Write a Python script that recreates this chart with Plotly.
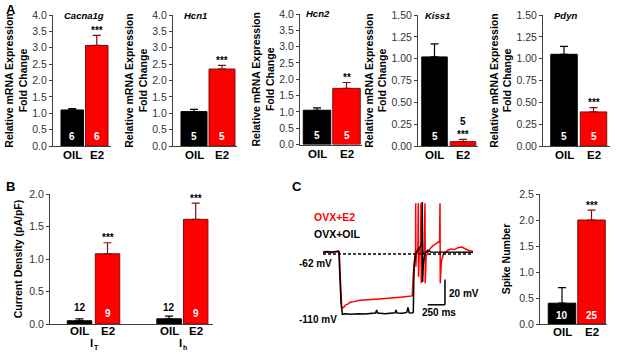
import plotly.graph_objects as go

W, H = 617, 354
FONT = "Arial, Liberation Sans, sans-serif"
RED = "#FF0000"
DARKRED = "#7a1010"
AXC = "#404040"

# ---------------- data ----------------
groups = ["OIL", "E2"]
genes = ["Cacna1g", "Hcn1", "Hcn2", "Kiss1", "Pdyn"]
gene_mean = {
    "Cacna1g": [1.10, 3.07],
    "Hcn1": [1.05, 2.35],
    "Hcn2": [1.05, 1.72],
    "Kiss1": [1.02, 0.05],
    "Pdyn": [1.05, 0.39],
}
gene_sem = {
    "Cacna1g": [0.04, 0.31],
    "Hcn1": [0.07, 0.11],
    "Hcn2": [0.07, 0.18],
    "Kiss1": [0.15, 0.025],
    "Pdyn": [0.09, 0.05],
}
gene_n = {"Cacna1g": [6, 6], "Hcn1": [5, 5], "Hcn2": [5, 5], "Kiss1": [5, 5], "Pdyn": [5, 5]}
gene_sig = {"Cacna1g": "***", "Hcn1": "***", "Hcn2": "**", "Kiss1": "***", "Pdyn": "***"}
gene_ymax = {"Cacna1g": 4.0, "Hcn1": 4.0, "Hcn2": 4.0, "Kiss1": 1.5, "Pdyn": 1.5}
a_title = ["Relative mRNA Expression", "Fold Change"]
b_title = "Current Density (pA/pF)"
c_title = "Spike Number"

current_names = ["I", "I"]
current_subs = ["T", "h"]
current_mean = {"OIL": [0.05, 0.08], "E2": [1.08, 1.61]}
current_sem = {"OIL": [0.03, 0.04], "E2": [0.17, 0.25]}
current_n = {"OIL": [12, 12], "E2": [9, 9]}

spike_mean = [0.40, 2.00]
spike_sem = [0.30, 0.19]
spike_n = [10, 25]

# membrane potential traces (ms, mV)
e2_t = [0, 60, 120, 180, 220, 235, 250, 270, 300, 330, 360, 390, 450, 535, 650, 824, 950, 1113,
        1200, 1272, 1290, 1305, 1320, 1335, 1338, 1340, 1343, 1350, 1372, 1377, 1381, 1390, 1410,
        1416, 1420, 1430, 1460, 1474, 1478, 1490, 1520, 1560, 1600, 1640, 1685, 1691, 1695, 1710,
        1740, 1806, 1850, 1900, 1950, 2004, 2050, 2100, 2168]
e2_v = [-61, -60.5, -61, -60, -59.5, -61, -85, -104.5, -104, -102, -101.5, -100, -99.5, -98.5, -98,
        -97, -96.8, -96, -95.5, -95, -95, -78, -66, -60, -58, -22, -72, -62, -57, -22, -80, -62, -57,
        -22, -85, -63, -60, -22, -85, -64, -60, -57, -55, -53.5, -52, -22, -85, -68, -62, -59, -58,
        -58.5, -57, -56.5, -58, -59, -60]
oil_t = [0, 60, 120, 180, 230, 240, 260, 280, 320, 400, 500, 600, 700, 760, 776, 790, 900, 1000,
         1040, 1055, 1070, 1150, 1210, 1228, 1245, 1290, 1305, 1312, 1319, 1340, 1380, 1420, 1430,
         1435, 1440, 1450, 1474, 1517, 1560, 1650, 1750, 1850, 1950, 2050, 2168]
oil_v = [-60.5, -60, -60.5, -60, -60, -75, -100, -109.5, -109, -109.5, -109, -109.3, -108.8, -108.5,
         -106, -108.5, -109, -108.6, -108.3, -106, -108.5, -108.6, -108, -104, -108.3, -108.5, -108,
         -85, -70, -62, -58, -55, -50, -21, -84, -70, -61.5, -59, -60.5, -60.5, -60.8, -60.3, -60.8,
         -60.5, -60.7]
rest_mv = -62
trace_end_ms = 2168

# ---------------- helpers ----------------
def px(x):
    return x / W


def py(y):
    return 1 - y / H


fig = go.Figure()
annotations = []
shapes = []
layout_axes = {}
TICK = 10.5
CAT = 11.5
TITLE = 10.5


def add_ann(text, x, y, size=10, color="black", bold=True, xanchor="center", yanchor="middle",
            xref="paper", yref="paper", italic=False, yshift=0, xshift=0):
    t = text
    if bold:
        t = "<b>" + t + "</b>"
    if italic:
        t = "<i>" + t + "</i>"
    annotations.append(dict(text=t, x=x, y=y, xref=xref, yref=yref, showarrow=False,
                            font=dict(family=FONT, size=size, color=color), xanchor=xanchor,
                            yanchor=yanchor, yshift=yshift, xshift=xshift))


def bar_axes(idx, ax0, ax1, top, bot, xrange, ymax, dtick, fmt, title, standoff):
    xa = "xaxis" if idx == 1 else f"xaxis{idx}"
    ya = "yaxis" if idx == 1 else f"yaxis{idx}"
    xs = "x" if idx == 1 else f"x{idx}"
    ys = "y" if idx == 1 else f"y{idx}"
    layout_axes[xa] = dict(domain=[px(ax0), px(ax1)], range=xrange, anchor=ys, showline=True,
                           linecolor=AXC, linewidth=1, showgrid=False, zeroline=False,
                           showticklabels=False, ticks="", fixedrange=True)
    layout_axes[ya] = dict(domain=[py(bot), py(top)], range=[0, ymax], anchor=xs, showline=True,
                           linecolor=AXC, linewidth=1, showgrid=False, zeroline=False,
                           ticks="outside", ticklen=3, tickcolor=AXC, dtick=dtick, tick0=0,
                           tickformat=fmt, tickfont=dict(family=FONT, size=TICK, color="#333"),
                           title=dict(text=title, standoff=standoff,
                                      font=dict(family=FONT, size=TITLE, color="black")),
                           automargin=False, fixedrange=True)
    return xs, ys


def cat_labels(xs, xvals, labels, ypix):
    for xv, lab in zip(xvals, labels):
        add_ann(lab, xv, py(ypix), size=CAT, xref=xs)


def add_bar(xs, ys, x, val, err, color, line, ecolor, width):
    fig.add_trace(go.Bar(x=[x], y=[val], width=[width], xaxis=xs, yaxis=ys,
                         marker=dict(color=color, line=dict(color=line, width=1)),
                         error_y=dict(type="data", symmetric=False, array=[err], arrayminus=[0],
                                      color=ecolor, thickness=1.2, width=4),
                         showlegend=False, hoverinfo="skip"))


def xmap(ax0, ax1, oL, oR, eL, eR):
    c0 = (oL + oR) / 2
    c1 = (eL + eR) / 2
    u = c1 - c0
    w = ((oR - oL) + (eR - eL)) / 2 / u
    return [(ax0 - c0) / u, 1 + (ax1 - c1) / u], w


# ---------------- panel A ----------------
a_geom = [  # ax0, ax1, oilL, oilR, e2L, e2R, top, bot
    (53, 111, 61, 83.5, 85.5, 108, 15, 146),
    (173, 237, 181, 207, 209, 235, 15, 146),
    (300, 362, 303, 331, 333, 360, 14, 144.5),
    (418, 478, 422, 447, 450, 476, 15, 146),
    (543, 610, 551, 577, 580, 607, 15, 146),
]
a_ytitle = "<b>" + a_title[0] + "</b><br><b>" + a_title[1] + "</b>"
for i, g in enumerate(genes):
    ax0, ax1, oL, oR, eL, eR, top, bot = a_geom[i]
    xr, w = xmap(ax0, ax1, oL, oR, eL, eR)
    ymax = gene_ymax[g]
    fmt = ".1f" if ymax > 2 else ".2f"
    dt = 0.5 if ymax > 2 else 0.25
    xs, ys = bar_axes(i + 1, ax0, ax1, top, bot, xr, ymax, dt, fmt, a_ytitle, 2)
    cat_labels(xs, [0, 1], groups, bot + 9)
    m, e = gene_mean[g], gene_sem[g]
    add_bar(xs, ys, 0, m[0], e[0], "black", "black", "black", w)
    add_bar(xs, ys, 1, m[1], e[1], RED, DARKRED, DARKRED, w)
    add_ann(g, px(oL + 1), py(top), size=9.5, italic=True, xanchor="left")
    ydom = "y domain" if i == 0 else f"y{i + 1} domain"
    add_ann(str(gene_n[g][0]), 0, 0.069, size=10, color="white", xref=xs, yref=ydom)
    if g == "Kiss1":
        add_ann(str(gene_n[g][1]), 1, m[1] + e[1], size=10, xref=xs, yref=ys, yshift=18)
    else:
        add_ann(str(gene_n[g][1]), 1, 0.069, size=10, color="white", xref=xs, yref=ydom)
    add_ann(gene_sig[g], 1, m[1] + e[1], size=10, xref=xs, yref=ys, yshift=5)

add_ann("A", px(4), py(9), size=13, xanchor="left")

# ---------------- panel B ----------------
b_pos = [[0, 3.2], [1, 4.15]]  # OIL, E2 x positions for each current
u = 28.0
c0 = 79.5
bx0, bx1 = 50, 213
xs, ys = bar_axes(6, bx0, bx1, 194, 324, [(bx0 - c0) / u, (bx1 - c0) / u], 2.0, 0.5, ".1f",
                  "<b>" + b_title + "</b>", 4)
bw = 24.5 / u
for k in range(2):
    add_bar(xs, ys, b_pos[0][k], current_mean["OIL"][k], current_sem["OIL"][k], "black", "black",
            "black", bw)
    add_bar(xs, ys, b_pos[1][k], current_mean["E2"][k], current_sem["E2"][k], RED, DARKRED,
            DARKRED, bw)
    cat_labels(xs, [b_pos[0][k], b_pos[1][k]], groups, 331)
    add_ann(str(current_n["OIL"][k]), b_pos[0][k], 0.125, size=10, xref=xs, yref="y6 domain")
    add_ann(str(current_n["E2"][k]), b_pos[1][k], 0.082, size=10, color="white", xref=xs,
            yref="y6 domain")
    add_ann("***", b_pos[1][k], current_mean["E2"][k] + current_sem["E2"][k], size=10, xref=xs,
            yref=ys, yshift=5)
    mid = (b_pos[0][k] + b_pos[1][k]) / 2
    add_ann(current_names[k], mid, py(343), size=CAT, xref=xs, xshift=-2)
    add_ann(current_subs[k], mid, py(347), size=7, xref=xs, xshift=3)
add_ann("B", px(4), py(186), size=13, xanchor="left")

# ---------------- spike number ----------------
xr, w = xmap(540, 607, 548, 576, 578, 605)
xs, ys = bar_axes(7, 540, 607, 194, 324, xr, 2.5, 0.5, ".1f", "<b>" + c_title + "</b>", 6)
cat_labels(xs, [0, 1], groups, 332)
add_bar(xs, ys, 0, spike_mean[0], spike_sem[0], "black", "black", "black", w)
add_bar(xs, ys, 1, spike_mean[1], spike_sem[1], RED, DARKRED, DARKRED, w)
add_ann(str(spike_n[0]), 0, 0.069, size=10, color="white", xref=xs, yref="y7 domain")
add_ann(str(spike_n[1]), 1, 0.069, size=10, color="white", xref=xs, yref="y7 domain")
add_ann("***", 1, spike_mean[1] + spike_sem[1], size=10, xref=xs, yref=ys, yshift=5)

# ---------------- traces ----------------
tx0, tx1, ty0, ty1 = 323, 473, 195, 325
pxmv = 1.27
vtop = rest_mv + (254 - ty0) / pxmv
vbot = rest_mv - (ty1 - 254) / pxmv
layout_axes["xaxis8"] = dict(domain=[px(tx0), px(tx1)], range=[0, trace_end_ms], anchor="y8",
                             visible=False, fixedrange=True)
layout_axes["yaxis8"] = dict(domain=[py(ty1), py(ty0)], range=[vbot, vtop], anchor="x8",
                             visible=False, fixedrange=True)
fig.add_trace(go.Scatter(x=e2_t, y=e2_v, mode="lines", line=dict(color=RED, width=1.5),
                         xaxis="x8", yaxis="y8", showlegend=False, hoverinfo="skip"))
fig.add_trace(go.Scatter(x=oil_t, y=oil_v, mode="lines", line=dict(color="black", width=1.5),
                         xaxis="x8", yaxis="y8", showlegend=False, hoverinfo="skip"))
shapes.append(dict(type="line", xref="x8", yref="y8", x0=0, x1=trace_end_ms, y0=rest_mv,
                   y1=rest_mv, line=dict(color="black", width=1.3, dash="3px,2px")))
# scale bars: 250 ms, 20 mV
sb_x1 = 1763
sb_y0 = -102
shapes.append(dict(type="line", xref="x8", yref="y8", x0=sb_x1 - 250, x1=sb_x1, y0=sb_y0,
                   y1=sb_y0, line=dict(color="black", width=1.5)))
shapes.append(dict(type="line", xref="x8", yref="y8", x0=sb_x1, x1=sb_x1, y0=sb_y0,
                   y1=sb_y0 + 20, line=dict(color="black", width=1.5)))
add_ann("20 mV", px(447), py(293), size=10, xanchor="left")
add_ann("250 ms", px(439), py(312), size=10)
add_ann("-62 mV", px(334), py(263), size=10, xanchor="right")
add_ann("-110 mV", px(339), py(319), size=10, xanchor="right")
add_ann("OVX+E2", px(312), py(217), size=10.5, color=RED, xanchor="left")
add_ann("OVX+OIL", px(312), py(234), size=10.5, xanchor="left")
add_ann("C", px(290), py(186), size=13, xanchor="left")

fig.update_layout(width=W, height=H, margin=dict(l=0, r=0, t=0, b=0), paper_bgcolor="white",
                  plot_bgcolor="white", showlegend=False, annotations=annotations, shapes=shapes,
                  barmode="overlay", font=dict(family=FONT), **layout_axes)
fig.write_html("out.html", post_script="document.body.style.margin='0';",
               config={"displayModeBar": False, "staticPlot": True})
